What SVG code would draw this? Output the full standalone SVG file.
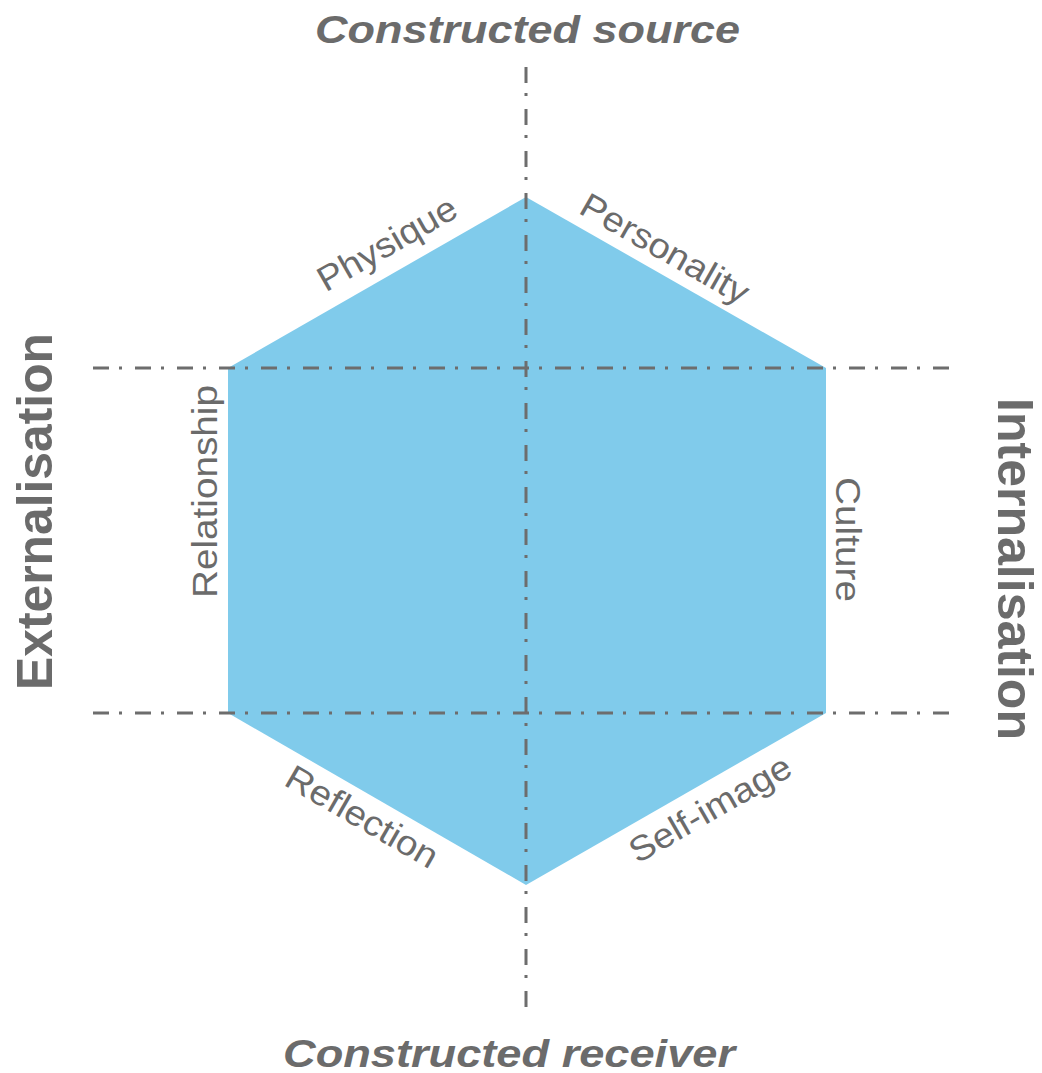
<svg xmlns="http://www.w3.org/2000/svg" width="1042" height="1073" viewBox="0 0 1042 1073">
<style>
.axis{stroke:#6d6d6d;stroke-width:3;fill:none;stroke-dasharray:16 10 3 13}
.lbl{font-family:"Liberation Sans",Arial,sans-serif;font-size:35px;fill:#6b6b6b;text-anchor:middle}
.ttl{font-family:"Liberation Sans",Arial,sans-serif;font-size:38px;font-weight:bold;font-style:italic;fill:#6b6b6b;text-anchor:middle}
.side{font-family:"Liberation Sans",Arial,sans-serif;font-size:50px;font-weight:bold;fill:#6b6b6b;text-anchor:middle}
</style>
<rect width="1042" height="1073" fill="#ffffff"/>
<g id="hexagon">
<polygon points="526,197 826,368 826,713 526,885 228,713 228,368" fill="#80cbeb"/>
</g>
<g id="connectors">
<line class="axis" x1="526" y1="67" x2="526" y2="1016"/>
<line class="axis" x1="93" y1="368" x2="950" y2="368"/>
<line class="axis" x1="93" y1="713" x2="950" y2="713"/>
</g>
<g id="title-source"><text class="ttl" x="527.5" y="43" textLength="425" lengthAdjust="spacingAndGlyphs">Constructed source</text></g>
<g id="title-receiver"><text class="ttl" x="509" y="1067" textLength="452" lengthAdjust="spacingAndGlyphs">Constructed receiver</text></g>
<g id="externalisation"><text class="side" transform="translate(52,511.5) rotate(-90)" textLength="357" lengthAdjust="spacingAndGlyphs">Externalisation</text></g>
<g id="internalisation"><text class="side" transform="translate(998,569) rotate(90)" textLength="342" lengthAdjust="spacingAndGlyphs">Internalisation</text></g>
<g id="physique"><text class="lbl" transform="translate(393,254) rotate(-29.85)" textLength="155" lengthAdjust="spacingAndGlyphs">Physique</text></g>
<g id="personality"><text class="lbl" transform="translate(659,259) rotate(29.7)" textLength="188" lengthAdjust="spacingAndGlyphs">Personality</text></g>
<g id="relationship"><text class="lbl" transform="translate(217,491.5) rotate(-90)" textLength="213" lengthAdjust="spacingAndGlyphs">Relationship</text></g>
<g id="culture"><text class="lbl" transform="translate(836,539.5) rotate(90)" textLength="125" lengthAdjust="spacingAndGlyphs">Culture</text></g>
<g id="reflection"><text class="lbl" transform="translate(356,827) rotate(29.99)" textLength="170" lengthAdjust="spacingAndGlyphs">Reflection</text></g>
<g id="self-image"><text class="lbl" transform="translate(716,819) rotate(-29.85)" textLength="181" lengthAdjust="spacingAndGlyphs">Self-image</text></g>
</svg>
